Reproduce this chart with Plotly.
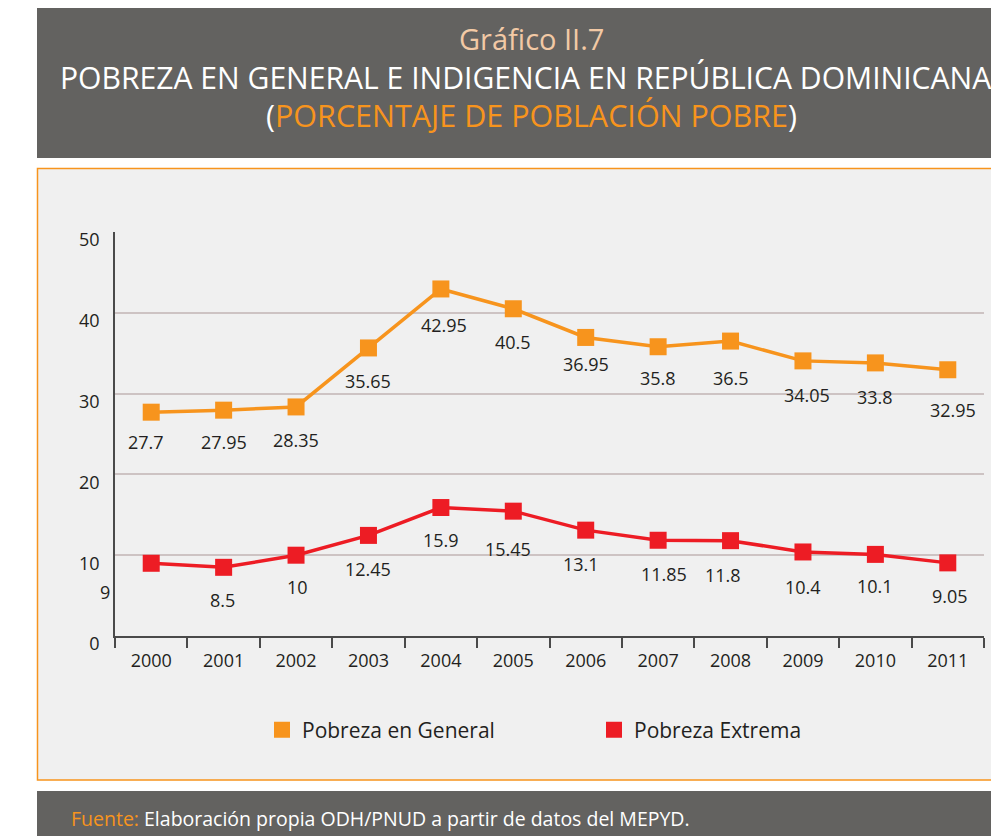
import plotly.graph_objects as go

years = ["2000", "2001", "2002", "2003", "2004", "2005", "2006", "2007", "2008", "2009", "2010", "2011"]
pobreza_general = [27.7, 27.95, 28.35, 35.65, 42.95, 40.5, 36.95, 35.8, 36.5, 34.05, 33.8, 32.95]
pobreza_extrema = [9, 8.5, 10, 12.45, 15.9, 15.45, 13.1, 11.85, 11.8, 10.4, 10.1, 9.05]
general_labels = ["27.7", "27.95", "28.35", "35.65", "42.95", "40.5", "36.95", "35.8", "36.5", "34.05", "33.8", "32.95"]
extrema_labels = ["9", "8.5", "10", "12.45", "15.9", "15.45", "13.1", "11.85", "11.8", "10.4", "10.1", "9.05"]
y_ticks = [0, 10, 20, 30, 40, 50]

# label pixel offsets (style only)
gen_dx = [-5, 0, 0, 0, 3, 0, 0, 0, 0, 4, 0, 5]
gen_dy = [-30, -32, -33, -33, -36, -33, -27, -31, -37, -34, -34, -40]
ext_dx = [-46, -1, 1, 0, 0, -5, -5, 6, -8, 0, 0, 2]
ext_dy = [-29, -33, -32, -34, -32, -38, -34, -34, -34, -35, -32, -33]

ORANGE = "#f7941d"
RED = "#ed1c24"
DARK = "#636260"
TXT = "#231f20"
FONT = "Open Sans"
OFF = 8               # page body margin
W, H = 999 - OFF, 836 - OFF

def px(x):
    return (x - OFF) / W

def py(y):
    return 1 - (y - OFF) / H

fig = go.Figure()
fig.add_trace(go.Scatter(x=years, y=pobreza_general, mode="lines+markers",
                         line=dict(color=ORANGE, width=3.5),
                         marker=dict(symbol="square", size=17, color=ORANGE),
                         showlegend=False))
fig.add_trace(go.Scatter(x=years, y=pobreza_extrema, mode="lines+markers",
                         line=dict(color=RED, width=3.5),
                         marker=dict(symbol="square", size=17, color=RED),
                         showlegend=False))
# legend entries
fig.add_trace(go.Scatter(x=[None], y=[None], mode="markers", name="Pobreza en General",
                         marker=dict(symbol="square", size=20, color=ORANGE)))
fig.add_trace(go.Scatter(x=[None], y=[None], mode="markers", name="Pobreza Extrema",
                         marker=dict(symbol="square", size=20, color=RED)))

annotations = []
for i in range(len(years)):
    annotations.append(dict(x=i, y=pobreza_general[i], xref="x", yref="y", text=general_labels[i],
                            showarrow=False, xshift=gen_dx[i], yshift=gen_dy[i],
                            font=dict(family=FONT, size=18, color=TXT)))
    annotations.append(dict(x=i, y=pobreza_extrema[i], xref="x", yref="y", text=extrema_labels[i],
                            showarrow=False, xshift=ext_dx[i], yshift=ext_dy[i],
                            font=dict(family=FONT, size=18, color=TXT)))

cx = px(531)
annotations += [
    dict(x=cx, y=py(39), xref="paper", yref="paper", text="Gráfico II.7", showarrow=False,
         font=dict(family=FONT, size=29, color="#f2c9a5"), xanchor="center", yanchor="middle"),
    dict(x=px(58), y=py(77), xref="paper", yref="paper",
         text="POBREZA EN GENERAL E INDIGENCIA EN REPÚBLICA DOMINICANA", showarrow=False,
         font=dict(family=FONT, size=30.1, color="white"), xanchor="left", yanchor="middle"),
    dict(x=cx, y=py(115), xref="paper", yref="paper",
         text="(<span style='color:%s'>PORCENTAJE DE POBLACIÓN POBRE</span>)" % ORANGE, showarrow=False,
         font=dict(family=FONT, size=30.5, color="white"), xanchor="center", yanchor="middle"),
    dict(x=px(69), y=py(818), xref="paper", yref="paper",
         text="<span style='color:%s'>Fuente:</span> Elaboración propia ODH/PNUD a partir de datos del MEPYD." % ORANGE,
         showarrow=False, font=dict(family=FONT, size=19.5, color="white"), xanchor="left", yanchor="middle"),
]

shapes = [
    dict(type="rect", xref="paper", yref="paper", x0=px(37), x1=1.1, y0=py(158), y1=py(8),
         fillcolor=DARK, line=dict(width=0), layer="below"),
    dict(type="rect", xref="paper", yref="paper", x0=px(37.5), x1=1.1, y0=py(780), y1=py(168.5),
         fillcolor="#f0f0f0", line=dict(width=1.5, color=ORANGE), layer="below"),
    dict(type="rect", xref="paper", yref="paper", x0=px(37), x1=1.1, y0=-0.1, y1=py(791),
         fillcolor=DARK, line=dict(width=0), layer="below"),
]

fig.update_layout(
    width=W, height=H,
    margin=dict(l=0, r=0, t=0, b=0, pad=0, autoexpand=False),
    paper_bgcolor="white",
    plot_bgcolor="rgba(0,0,0,0)",
    font=dict(family=FONT, size=18, color=TXT),
    annotations=annotations,
    shapes=shapes,
    legend=dict(orientation="h", x=px(262), y=py(730), xanchor="left", yanchor="middle",
                font=dict(family=FONT, size=21, color=TXT),
                entrywidth=287, entrywidthmode="pixels", bgcolor="rgba(0,0,0,0)",
                itemclick=False),
    xaxis=dict(domain=[px(115), px(984)], type="category", automargin=False,
               showgrid=False, showline=True, linecolor="#4a4a4a", linewidth=1.5,
               ticks="outside", ticklen=10, tickcolor="#4a4a4a", tickwidth=1.5,
               tickson="boundaries", ticklabelstandoff=8,
               tickfont=dict(family=FONT, size=18, color=TXT),
               range=[-0.5, 11.5], fixedrange=True),
    yaxis=dict(domain=[py(636), py(232)], range=[0, 50], tickvals=y_ticks, automargin=False,
               showgrid=True, gridcolor="#cdc3c3", gridwidth=1.5,
               showline=True, linecolor="#4a4a4a", linewidth=1.5, zeroline=False,
               ticks="", ticklabelstandoff=10, ticklabelshift=8,
               tickfont=dict(family=FONT, size=18, color=TXT),
               fixedrange=True),
)

fig.write_html("out.html")
